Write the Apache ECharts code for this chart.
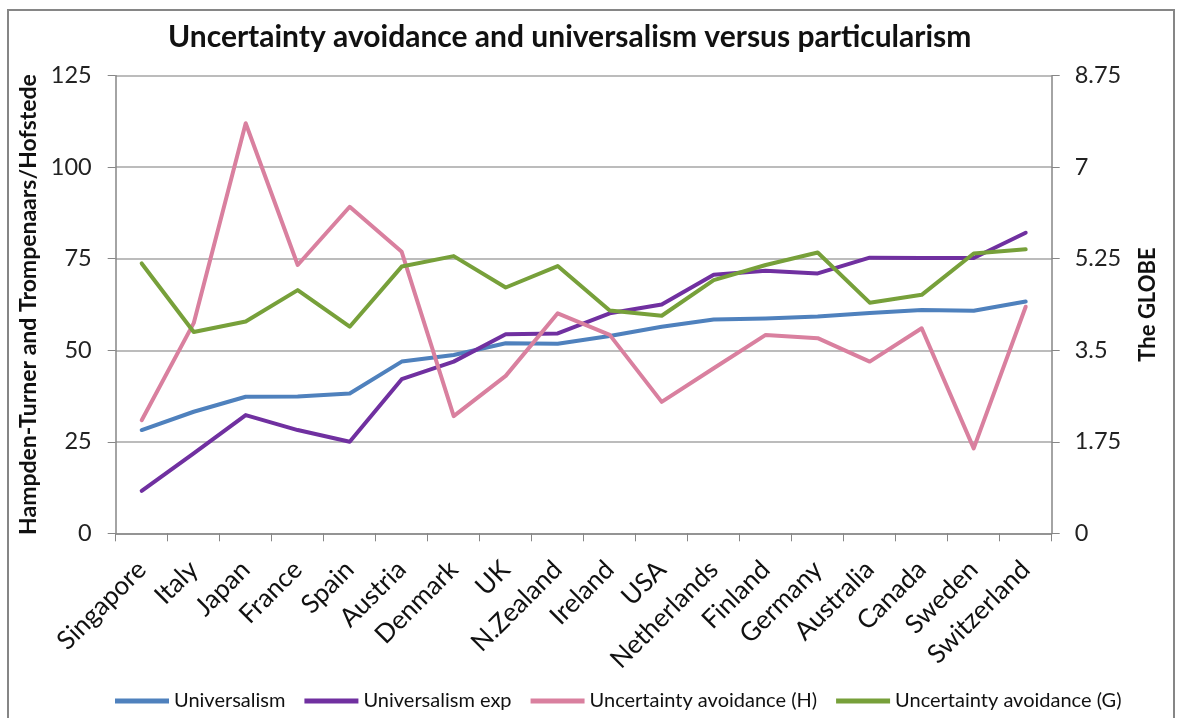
<!DOCTYPE html>
<html>
<head>
<meta charset="utf-8">
<script src="https://cdn.jsdelivr.net/npm/echarts@6/dist/echarts.min.js"></script>
<style>
  html, body { margin: 0; padding: 0; background: #fff; }
  #chart { width: 1179px; height: 718px; }
</style>
</head>
<body>
<div id="chart"></div>
<script>
// Countries, ordered by Universalism score
const countries = ['Singapore', 'Italy', 'Japan', 'France', 'Spain', 'Austria', 'Denmark', 'UK',
  'N.Zealand', 'Ireland', 'USA', 'Netherlands', 'Finland', 'Germany', 'Australia', 'Canada',
  'Sweden', 'Switzerland'];

// Hampden-Turner & Trompenaars / Hofstede scale (left axis)
const universalism = [28.2, 33.2, 37.3, 37.4, 38.2, 46.9, 48.7, 51.9, 51.8, 53.9, 56.4, 58.4,
  58.7, 59.2, 60.2, 61.0, 60.8, 63.3];
const universalismExp = [11.6, 21.8, 32.3, 28.2, 25.0, 42.1, 46.9, 54.4, 54.6, 60.1, 62.5, 70.6,
  71.7, 71.0, 75.3, 75.2, 75.2, 82.1];
const uncertaintyH = [30.9, 57.4, 112.0, 73.3, 89.2, 76.9, 32.0, 43.0, 60.1, 54.2, 35.9, 45.1,
  54.2, 53.3, 46.9, 56.0, 23.2, 61.9];

// GLOBE scale (right axis)
const uncertaintyG = [5.16, 3.85, 4.05, 4.65, 3.95, 5.10, 5.30, 4.70, 5.11, 4.26, 4.16, 4.84,
  5.13, 5.37, 4.41, 4.56, 5.35, 5.43];

const leftTicks = { min: 0, max: 125, interval: 25 };
const rightTicks = { min: 0, max: 8.75, interval: 1.75 };

const FONT = 'Lato, "Open Sans", sans-serif';
const AXIS_GRAY = '#868686';

const chart = echarts.init(document.getElementById('chart'), null, { renderer: 'canvas' });

function lineSeries(name, data, color, yAxisIndex) {
  return {
    name: name,
    type: 'line',
    data: data,
    yAxisIndex: yAxisIndex,
    showSymbol: false,
    symbol: 'none',
    lineStyle: { width: 4, color: color, join: 'round', cap: 'round' },
    itemStyle: { color: color },
    emphasis: { disabled: true },
    animation: false
  };
}

chart.setOption({
  animation: false,
  textStyle: { fontFamily: FONT },
  title: {
    text: 'Uncertainty avoidance and universalism versus particularism',
    left: 163,
    top: 17,
    textStyle: { fontFamily: FONT, fontSize: 30, fontWeight: 'bold', color: '#111' }
  },
  graphic: [{
    type: 'rect',
    shape: { x: 8, y: 10, width: 1166, height: 730 },
    style: { fill: 'none', stroke: AXIS_GRAY, lineWidth: 2 },
    silent: true,
    z: -1
  }],
  legend: {
    top: 686,
    left: 110,
    icon: 'rect',
    itemWidth: 54,
    itemHeight: 5,
    itemGap: 19,
    textStyle: { fontFamily: FONT, fontSize: 20, color: '#111' },
    data: ['Universalism', 'Universalism exp', 'Uncertainty avoidance (H)', 'Uncertainty avoidance (G)']
  },
  grid: { left: 115.7, right: 127.3, top: 75.7, bottom: 184.7, containLabel: false },
  xAxis: {
    type: 'category',
    data: countries,
    boundaryGap: true,
    axisLine: { lineStyle: { color: AXIS_GRAY, width: 1.5 } },
    axisTick: { show: true, length: 8, interval: 0, lineStyle: { color: AXIS_GRAY } },
    axisLabel: {
      interval: 0,
      rotate: 45,
      margin: 32,
      fontFamily: FONT,
      fontSize: 26,
      color: '#111'
    },
    splitLine: { show: false }
  },
  yAxis: [{
    type: 'value',
    position: 'left',
    min: leftTicks.min,
    max: leftTicks.max,
    interval: leftTicks.interval,
    name: 'Hampden-Turner and Trompenaars/Hofstede',
    nameLocation: 'middle',
    nameGap: 70,
    nameRotate: 90,
    nameTextStyle: { fontFamily: FONT, fontSize: 23, fontWeight: 'bold', color: '#111' },
    axisLine: { show: true, lineStyle: { color: AXIS_GRAY, width: 1.5 } },
    axisTick: { show: true, length: 8, lineStyle: { color: AXIS_GRAY } },
    axisLabel: { fontFamily: FONT, fontSize: 23.5, color: '#222', margin: 24 },
    splitLine: { show: true, lineStyle: { color: '#a6a6a6', width: 1.5 } }
  }, {
    type: 'value',
    position: 'right',
    min: rightTicks.min,
    max: rightTicks.max,
    interval: rightTicks.interval,
    name: 'The GLOBE',
    nameLocation: 'middle',
    nameGap: 85,
    nameRotate: 90,
    nameTextStyle: { fontFamily: FONT, fontSize: 22, fontWeight: 'bold', color: '#111' },
    axisLine: { show: true, lineStyle: { color: AXIS_GRAY, width: 1.5 } },
    axisTick: { show: true, length: 8, lineStyle: { color: AXIS_GRAY } },
    axisLabel: { fontFamily: FONT, fontSize: 23.5, color: '#222', margin: 23 },
    splitLine: { show: false }
  }],
  series: [
    lineSeries('Universalism', universalism, '#4F81BD', 0),
    lineSeries('Universalism exp', universalismExp, '#7030A0', 0),
    lineSeries('Uncertainty avoidance (H)', uncertaintyH, '#D9809F', 0),
    lineSeries('Uncertainty avoidance (G)', uncertaintyG, '#77A03A', 1)
  ]
});
</script>
</body>
</html>
